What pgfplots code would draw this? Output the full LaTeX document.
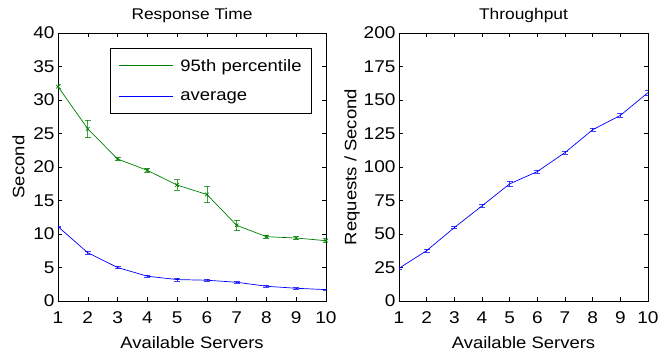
\documentclass[border=0pt]{standalone}
\usepackage{fontspec}
\setmainfont{Liberation Sans}[FakeStretch=1.12]
\usepackage{pgfplots}
\pgfplotsset{compat=1.18}
\definecolor{mgreen}{rgb}{0,0.5,0}
\definecolor{mblue}{rgb}{0,0,1}
\begin{document}
\begin{tikzpicture}
\useasboundingbox (0pt,0pt) rectangle (671pt,356pt);
\pgfplotsset{
  every axis/.append style={
    scale only axis,
    height=268pt,
    xmin=1, xmax=10,
    xtick={1,...,10},
    /pgf/number format/assume math mode=true,
    tick label style={font=\fontsize{17}{20}\selectfont},
    label style={font=\fontsize{16.5}{20}\selectfont},
    title style={font=\fontsize{15.5}{18}\selectfont, yshift=1pt},
    major tick length=4pt,
    tick style={black, line width=0.5pt},
    axis line style={line width=0.6pt},
    xticklabel style={yshift=-7pt},
    xlabel style={yshift=-6pt},
    every axis plot/.append style={line width=0.7pt},
    error bars/error bar style={line width=0.7pt, opacity=0.75},
    error bars/error mark options={rotate=90, mark size=3pt, line width=0.7pt},
  }
}
% Left: Response Time
\begin{axis}[
  at={(58pt,55pt)}, anchor=south west,
  width=268pt,
  ymin=0, ymax=40,
  ytick={0,5,...,40},
  title={Response Time},
  xlabel={Available Servers},
  ylabel={Second},
  ylabel style={yshift=2pt},
  legend style={at={(1,1)}, anchor=north east, xshift=-14pt, yshift=-15pt,
    line width=0.7pt, font=\fontsize{16.5}{20}\selectfont,
    inner xsep=8pt, inner ysep=9pt, row sep=15pt, column sep=5pt, cells={anchor=west}},
]
\addlegendimage{legend image code/.code={
  \draw[mgreen, line width=0.8pt] (0cm,0.5pt) -- (1.9cm,0.5pt);
  \draw[mgreen, line width=0.8pt] (0.95cm,0.5pt) node {\pgfuseplotmark{x}};}}
\addlegendentry{95th percentile}
\addlegendimage{legend image code/.code={
  \draw[mblue, line width=0.8pt] (0cm,0.5pt) -- (1.9cm,0.5pt);}}
\addlegendentry{average}
\addplot[mgreen, mark=x, mark size=2.5pt, forget plot, error bars/.cd, y dir=both, y explicit]
  table[x=x, y=y, y error=e] {
x y e
1 32.0 0.3
2 25.7 1.3
3 21.2 0.2
4 19.5 0.3
5 17.3 0.8
6 15.9 1.2
7 11.3 0.8
8 9.6 0.2
9 9.4 0.2
10 9.0 0.3
};
\addplot[mblue, mark=none, forget plot, error bars/.cd, y dir=both, y explicit]
  table[x=x, y=y, y error=e] {
x y e
1 11.1 0.1
2 7.2 0.2
3 5.0 0.15
4 3.7 0.15
5 3.2 0.25
6 3.1 0.15
7 2.8 0.1
8 2.2 0.15
9 1.9 0.1
10 1.7 0.1
};
\end{axis}
% Right: Throughput
\begin{axis}[
  at={(399pt,55pt)}, anchor=south west,
  width=249pt,
  ymin=0, ymax=200,
  ytick={0,25,...,200},
  title={Throughput},
  xlabel={Available Servers},
  ylabel={Requests / Second},
  ylabel style={yshift=-3pt},
]
\addplot[mblue, mark=none, error bars/.cd, y dir=both, y explicit]
  table[x=x, y=y, y error=e] {
x y e
1 24.4 0.5
2 37.6 1.0
3 54.8 0.8
4 71.0 1.2
5 87.4 2.2
6 96.6 1.2
7 110.8 1.2
8 127.8 1.2
9 138.5 1.2
10 155.5 2.0
};
\end{axis}
\end{tikzpicture}
\end{document}
